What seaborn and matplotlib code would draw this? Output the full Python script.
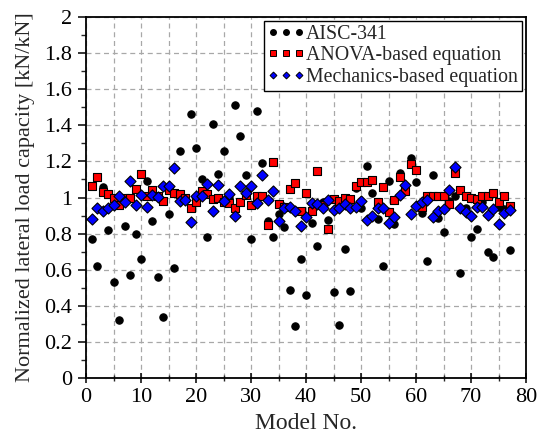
import numpy as np
import pandas as pd
import matplotlib
matplotlib.use("Agg")
import matplotlib.pyplot as plt
from matplotlib.lines import Line2D
from matplotlib.ticker import MultipleLocator
import seaborn as sns

model_no = list(range(1, 78))

aisc_341 = [0.77, 0.62, 1.06, 0.82, 0.53, 0.32, 0.84, 0.57, 0.80, 0.66,
            1.09, 0.87, 0.56, 0.34, 0.91, 0.61, 1.26, 1.00, 1.46, 1.275,
            1.10, 0.78, 1.41, 1.13, 1.26, 1.00, 1.51, 1.34, 1.125, 0.77,
            1.48, 1.19, 0.87, 0.78, 0.907, 0.836, 0.485, 0.29, 0.658, 0.458,
            0.86, 0.73, 0.975, 0.874, 0.476, 0.294, 0.716, 0.482, 1.05, 0.94,
            1.173, 1.025, 0.879, 0.622, 1.092, 0.851, 1.137, 1.06, 1.218, 1.088,
            0.912, 0.649, 1.125, 0.889, 0.808, 0.98, 1.011, 0.58, 0.942, 0.779,
            0.826, 0.973, 0.70, 0.672, 0.95, 0.937, 0.708]

anova_eq = [1.064, 1.112, 1.03, 1.022, 1.0, 0.958, 1.0, 0.995, 1.045, 1.13,
            1.01, 1.04, 1.01, 0.98, 1.042, 1.025, 1.017, 1.0, 0.944, 0.973,
            1.038, 1.02, 0.99, 1.0, 0.976, 0.97, 0.942, 0.973, 1.013, 0.956,
            1.006, 1.007, 0.847, 1.197, 0.966, 0.95, 1.045, 1.08, 0.925, 1.023,
            0.923, 1.148, 0.96, 0.823, 0.99, 0.981, 1.0, 0.993, 1.061, 1.086,
            1.086, 1.099, 0.976, 1.06, 0.918, 0.987, 1.113, 1.037, 1.188, 1.15,
            0.95, 1.011, 1.006, 1.009, 1.006, 0.963, 1.134, 1.043, 1.009, 1.0,
            0.99, 1.009, 1.011, 1.024, 0.976, 1.006, 0.954]

mechanics_eq = [0.879, 0.942, 0.923, 0.944, 0.958, 1.008, 0.975, 1.09, 0.958, 1.012,
                0.949, 1.012, 1.005, 1.064, 1.064, 1.165, 0.98, 0.986, 0.863, 1.011,
                1.006, 1.077, 0.924, 1.07, 0.98, 1.017, 0.898, 1.063, 1.024, 1.063,
                0.971, 1.125, 0.985, 1.037, 0.872, 0.944, 0.948, 0.928, 0.844, 0.894,
                0.972, 0.963, 0.944, 0.985, 0.931, 0.94, 0.965, 0.942, 0.95, 0.978,
                0.875, 0.898, 0.944, 0.942, 0.86, 0.89, 1.013, 1.069, 0.909, 0.954,
                0.976, 0.987, 0.892, 0.926, 0.937, 1.041, 1.171, 0.944, 0.922, 0.898,
                0.95, 0.946, 0.903, 0.939, 0.855, 0.916, 0.933]

series_names = ["AISC-341", "ANOVA-based equation", "Mechanics-based equation"]
ytick_labels = ["0", "0.2", "0.4", "0.6", "0.8", "1", "1.2", "1.4", "1.6", "1.8", "2"]

sns.set_theme(style="ticks")
plt.rcParams["font.family"] = ["Liberation Serif", "DejaVu Serif"]

df = pd.DataFrame({
    "Model": model_no * 3,
    "Value": aisc_341 + anova_eq + mechanics_eq,
    "Series": [series_names[0]] * 77 + [series_names[1]] * 77 + [series_names[2]] * 77,
})

fig = plt.figure(figsize=(5.39, 4.42), dpi=100)
ax = fig.add_axes([0.1596, 0.1448, 0.8164, 0.8167])

styles = {
    series_names[0]: dict(marker="o", color="black", edgecolor="black", s=28),
    series_names[1]: dict(marker="s", color="#ff0000", edgecolor="black", s=36),
    series_names[2]: dict(marker="D", color="#0000ff", edgecolor="black", s=32),
}
for i, name in enumerate(series_names):
    sub = df[df["Series"] == name]
    st = styles[name]
    sns.scatterplot(data=sub, x="Model", y="Value", ax=ax, marker=st["marker"],
                    color=st["color"], edgecolor=st["edgecolor"], s=st["s"],
                    linewidth=0.8, legend=False, zorder=3 + i)

ax.set_xlim(0, 80)
ax.set_ylim(0, 2)
ax.xaxis.set_major_locator(MultipleLocator(10))
ax.xaxis.set_minor_locator(MultipleLocator(5))
ax.set_yticks(np.arange(0, 2.01, 0.2))
ax.set_yticklabels(ytick_labels)
ax.yaxis.set_minor_locator(MultipleLocator(0.1))

ax.grid(which="major", axis="both", color="#a8a8a8", linestyle=(0, (4, 3)), linewidth=0.9)
ax.grid(which="minor", axis="x", color="#a8a8a8", linestyle=(0, (4, 3)), linewidth=0.9)
ax.set_axisbelow(True)

for sp in ax.spines.values():
    sp.set_color("black")
    sp.set_linewidth(1.3)

ax.tick_params(axis="y", which="major", direction="out", length=6, width=1.1,
               labelsize=16, colors="black", pad=4)
ax.tick_params(axis="y", which="minor", direction="out", length=3.5, width=1.0)
ax.tick_params(axis="x", which="major", direction="inout", length=7, width=1.1,
               labelsize=16, colors="black", pad=4)
ax.tick_params(axis="x", which="minor", direction="inout", length=5, width=1.0)

ax.set_xlabel("Model No.", fontsize=17, labelpad=4)
ax.set_ylabel("Normalized lateral load capacity [kN/kN]", fontsize=16, labelpad=7)

handles = [
    Line2D([], [], linestyle="none", marker="o", markersize=4, markerfacecolor="black",
           markeredgecolor="black"),
    Line2D([], [], linestyle="none", marker="s", markersize=4.5, markerfacecolor="#ff0000",
           markeredgecolor="black", markeredgewidth=0.7),
    Line2D([], [], linestyle="none", marker="D", markersize=3.5, markerfacecolor="#0000ff",
           markeredgecolor="black", markeredgewidth=0.7),
]
leg = ax.legend(handles, series_names, loc="upper right", numpoints=3, fontsize=14.3,
                handlelength=1.9, handletextpad=0.05, borderpad=0.2, labelspacing=0.12,
                borderaxespad=0.2, fancybox=False, framealpha=1, edgecolor="black")
leg.get_frame().set_linewidth(1.0)

fig.savefig("out.png", dpi=100)
